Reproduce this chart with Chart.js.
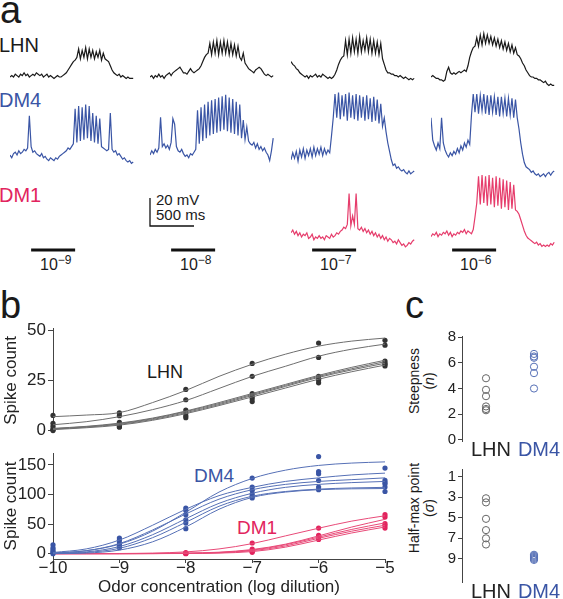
<!DOCTYPE html>
<html><head><meta charset="utf-8">
<script src="https://cdn.jsdelivr.net/npm/chart.js@4.4.1/dist/chart.umd.min.js"></script>
<style>
html,body{margin:0;padding:0;background:#fff;}
body{width:563px;height:599px;position:relative;overflow:hidden;font-family:"Liberation Sans",Arial,Helvetica,sans-serif;color:#1a1a1a;}
canvas{position:absolute;}
.t{position:absolute;line-height:0;white-space:nowrap;}
.rot{position:absolute;white-space:nowrap;text-align:center;line-height:1.05;transform:translate(-50%,-50%) rotate(-90deg);}
</style></head><body>

<div class="t" style="left:0px;top:10px;font-size:38px;">a</div>
<div class="t" style="left:-1px;top:45px;font-size:20px;">LHN</div>
<div class="t" style="left:-1px;top:100px;font-size:20px;color:#3a55a5;">DM4</div>
<div class="t" style="left:-1px;top:195px;font-size:20px;color:#e2245e;">DM1</div>
<div class="t" style="left:156px;top:200px;font-size:15px;">20 mV</div>
<div class="t" style="left:156px;top:215px;font-size:15px;">500 ms</div>
<div class="t" style="left:40px;top:265px;font-size:16px;">10<span style="font-size:12px;position:relative;top:-6px;">−9</span></div>
<div class="t" style="left:180px;top:265px;font-size:16px;">10<span style="font-size:12px;position:relative;top:-6px;">−8</span></div>
<div class="t" style="left:320px;top:265px;font-size:16px;">10<span style="font-size:12px;position:relative;top:-6px;">−7</span></div>
<div class="t" style="left:460px;top:265px;font-size:16px;">10<span style="font-size:12px;position:relative;top:-6px;">−6</span></div>

<div class="t" style="left:0px;top:305px;font-size:38px;">b</div>
<div class="t" style="left:147px;top:372px;font-size:18px;">LHN</div>
<div class="t" style="left:194px;top:476px;font-size:19px;color:#3a55a5;">DM4</div>
<div class="t" style="left:237px;top:528px;font-size:19px;color:#e2245e;">DM1</div>

<div class="t" style="left:405px;top:305px;font-size:38px;">c</div>
<div class="rot" style="left:422px;top:381px;font-size:14px;">Steepness<br>(<i>n</i>)</div>
<div class="rot" style="left:422px;top:508px;font-size:14px;">Half-max point<br>(<i>σ</i>)</div>

<script>
// ---------- DATA ----------
// panel a: membrane potential traces (mV relative to rest), one sample every 20 ms
const SAMPLE_MS = 20;
const STIM_ON_MS = 240, STIM_DUR_MS = 500;
const scaleBarMv = 20, scaleBarMs = 500;

const lhnTrace1 = [0,1,0,2,1,0,2,1,3,1,2,0,1,2,1,3,2,1,2,0,1,2,0,1,0,-1,0,1,0,0,1,2,3,5,7,9,11,12,14,20,13,19,14,21,13,20,14,19,13,18,14,19,12,17,13,12,11,8,5,3,2,1,2,0,1,0,-1,0,-1,-1,-1];
const lhnTrace2 = [0,1,-1,1,0,2,0,1,-1,1,2,3,1,3,4,5,6,7,5,3,3,2,4,6,4,3,4,5,6,8,11,14,16,17,24,16,25,17,26,16,25,17,26,17,25,16,24,16,23,15,22,14,12,17,10,8,6,5,4,3,5,6,7,6,4,2,1,2,1,0,1];
const lhnTrace3 = [11,9,8,6,5,3,2,1,0,1,-1,1,0,1,2,0,1,0,2,1,0,-1,0,-1,0,2,5,9,12,14,15,26,16,27,17,28,18,27,17,29,18,26,19,28,18,27,17,26,17,25,16,24,13,9,5,3,3,2,2,1,1,0,1,0,-1,0,-1,-2,-1,-2,-1];
const lhnTrace4 = [0,1,0,-1,-1,-2,-2,-3,-2,4,7,3,2,3,2,3,4,3,4,5,4,8,14,18,21,22,28,22,30,23,31,24,30,24,29,23,28,22,27,21,26,20,25,19,24,18,23,17,21,16,15,13,10,8,5,3,1,0,0,-1,-1,-2,-2,-3,-4,-3,-5,-6,-5,-6,-6];
const dm4Trace1 = [0,-2,1,2,0,3,1,2,4,3,5,28,6,2,3,1,0,-1,1,-2,-1,-3,-4,-2,-3,-4,-2,-3,-1,0,1,2,3,5,4,6,8,33,9,35,10,34,11,36,12,35,10,30,9,28,8,26,6,5,4,3,4,30,4,2,3,0,1,-1,-3,-2,-4,-5,-4,-6,-5];
const dm4Trace2 = [0,3,1,4,2,5,27,6,8,5,7,4,9,26,22,6,3,2,4,1,-1,0,-2,1,0,2,4,32,8,34,10,36,12,38,14,39,15,40,16,41,17,42,18,43,17,41,16,40,15,38,14,36,12,25,11,20,10,8,7,9,5,8,4,6,3,5,2,0,-4,3,12];
const dm4Trace3 = [-2,3,-1,4,-3,5,0,6,-1,5,1,6,0,7,1,6,2,7,1,6,2,5,3,15,28,45,28,46,27,44,29,45,26,46,28,44,27,45,26,44,28,43,26,44,27,42,25,43,26,41,24,38,22,28,18,10,4,-2,-6,-5,-8,-7,-9,-10,-9,-11,-12,-10,-12,-11,-10];
const dm4Trace4 = [28,12,8,5,10,6,28,10,5,2,0,3,1,4,2,6,3,8,5,10,7,12,9,30,45,32,45,31,44,33,45,31,44,30,44,32,43,30,43,29,43,31,42,29,42,30,42,28,41,28,20,10,2,-4,-7,-8,-9,-11,-10,-12,-13,-12,-14,-13,-12,-14,-12,-11,-13,-11,-10];
const dm1Trace3 = [3,5,2,4,1,3,0,2,1,3,-1,0,2,-2,0,-1,1,-1,0,-2,1,0,-1,2,0,1,3,2,4,5,7,6,9,31,8,15,9,31,6,5,7,4,6,3,5,2,4,1,3,0,2,-1,1,-2,0,-3,-1,-2,-4,-3,-5,-2,-4,-6,-5,-7,-6,-4,-5,-3,-2];
const dm1Trace4 = [1,3,2,4,1,3,2,4,3,5,2,4,1,3,2,4,3,5,4,6,3,5,4,3,6,15,25,44,24,45,25,44,23,45,24,43,22,44,23,43,21,42,22,41,20,40,21,38,20,19,17,13,9,5,2,0,-1,-2,-3,-4,-3,-5,-4,-6,-5,-6,-5,-6,-4,-5,-3];

// panel b: spike counts vs log dilution
const doseLog = [-10,-9,-8,-7,-6,-5];
const fitLog = [-10,-9.5,-9,-8.5,-8,-7.5,-7,-6.5,-6,-5.5,-5];
const lhnSpikes = [
  [7.6, 8.9, 20.5, 33.4, 43.5, 44.9],
  [3.7, 7.5, 15.4, 27, 36.4, 42.5],
  [2.3, 4.2, 10.3, 18.4, 27, 34.6],
  [0.9, 2.8, 8.9, 17, 25.7, 33.6],
  [0.1, 1.9, 7.5, 15.9, 25.2, 33],
  [0.5, 1.9, 6.5, 14.5, 23.8, 32.2]
];
const lhnFits = [
  [7, 7.8, 9, 14, 20, 27, 33, 38, 42, 44.5, 46],
  [3, 4.5, 7, 10.5, 15, 21, 27, 32, 37, 40.5, 43],
  [1.2, 2.2, 3.8, 6.3, 9.8, 14, 18.5, 23, 27.5, 31.5, 35],
  [1, 2, 3.5, 6, 9.5, 13.5, 18, 22.5, 27, 30.8, 34.3],
  [0.8, 1.8, 3.2, 5.6, 9, 13, 17.5, 22, 26.5, 30.2, 33.5],
  [0.6, 1.5, 2.8, 5.2, 8.5, 12.5, 16.8, 21.2, 25.6, 29.3, 32.6]
];
const dm4Spikes = [
  [10, 22.5, 73, 127.6, 164, 144.5],
  [15, 26.4, 77, 112.5, 138.8, 123.7],
  [7, 18, 65.7, 106.9, 134.8, 120],
  [4, 15, 57.3, 100.7, 123.6, 117.6],
  [2, 12.4, 51.7, 96.8, 112.4, 112.5],
  [0, 10, 42.2, 94, 107.9, 105]
];
const dm4Fits = [
  [1, 5, 16, 38, 70, 104, 127, 141, 149, 153, 155],
  [2, 8, 23, 48, 75, 98, 112, 122, 128, 133, 136],
  [1, 5, 17, 40, 67, 92, 108, 117, 122, 125, 128],
  [0.5, 3, 12, 32, 59, 85, 102, 112, 117, 120, 122],
  [0.3, 2, 9, 27, 53, 80, 97, 105, 109, 111, 112],
  [0, 1, 6, 20, 45, 75, 95, 104, 108, 109.5, 110]
];
const dm1Spikes = [
  [null, null, 2, 18, 43.3, 65.8],
  [null, null, 1, 7.9, 31, 61.8],
  [null, null, 0.5, 5, 29, 50.6],
  [null, null, 0.3, 4, 27, 47.2],
  [null, null, 0, 2.2, 24, 43.3]
];
const dm1Fits = [
  [0, 0.1, 0.3, 1, 3, 8, 17, 30, 43, 55, 64],
  [0, 0, 0, 0.3, 1, 2.5, 7, 16, 30, 45, 58],
  [0, 0, 0, 0.2, 0.5, 2, 6, 15, 28, 41, 52],
  [0, 0, 0, 0.1, 0.5, 1.5, 5, 13, 26, 38, 48],
  [0, 0, 0, 0.1, 0.3, 1, 3.5, 11, 23, 35, 45]
];

// panel c
const cellTypes = ['LHN', 'DM4'];
const steepLHN = [4.8, 3.9, 3.4, 2.6, 2.4, 2.3];
const steepDM4 = [6.7, 6.5, 6.4, 5.7, 5.2, 4.0];
const halfLHN = [3.1, 3.5, 5.1, 6.2, 7.0, 7.6];
const halfDM4 = [8.6, 8.7, 8.8, 8.9, 9.0, 9.1];

// ---------- STYLE / LAYOUT ----------
const FONT = '"Liberation Sans", Arial, Helvetica, sans-serif';
Chart.defaults.font.family = FONT;
Chart.defaults.color = '#222';
const BLUE = '#3a55a5', PINK = '#e2245e', PINK_TR = '#e63d6c', BLK = '#1a1a1a';
const PX_PER_MS = 44 / 500, PX_PER_MV = 1.4;

function canvasAt(left, top, w, h) {
  const c = document.createElement('canvas');
  c.width = w; c.height = h;
  c.style.left = left + 'px'; c.style.top = top + 'px';
  c.style.width = w + 'px'; c.style.height = h + 'px';
  document.body.appendChild(c);
  return c;
}
function base() {
  return {responsive: false, animation: false, events: [], devicePixelRatio: 1,
    plugins: {legend: {display: false}, tooltip: {enabled: false}}};
}
function bareChart(c, datasets, xMin, xMax, yMin, yMax) {
  const o = base();
  o.layout = {padding: 0};
  o.scales = {x: {type: 'linear', display: false, min: xMin, max: xMax},
              y: {type: 'linear', display: false, min: yMin, max: yMax}};
  return new Chart(c, {type: 'line', data: {datasets}, options: o});
}

// panel a traces
const colLeft = [10, 150, 291, 431];
function trace(values, color, col, baselineY) {
  const yMin = -15, yMax = 50, w = 126;
  const h = Math.round((yMax - yMin) * PX_PER_MV);
  const c = canvasAt(colLeft[col], baselineY - yMax * PX_PER_MV, w, h);
  bareChart(c, [{data: values.map((v, i) => ({x: i * SAMPLE_MS, y: v})), borderColor: color,
    borderWidth: 1.2, pointRadius: 0, tension: 0, clip: false}], 0, w / PX_PER_MS, yMin, yMax);
}
trace(lhnTrace1, BLK, 0, 77);
trace(lhnTrace2, BLK, 1, 77);
trace(lhnTrace3, BLK, 2, 77);
trace(lhnTrace4, BLK, 3, 77);
trace(dm4Trace1, BLUE, 0, 155);
trace(dm4Trace2, BLUE, 1, 155);
trace(dm4Trace3, BLUE, 2, 157);
trace(dm4Trace4, BLUE, 3, 157);
trace(dm1Trace3, PINK_TR, 2, 237);
trace(dm1Trace4, PINK_TR, 3, 238);

// stimulus bars
for (let col = 0; col < 4; col++) {
  const c = canvasAt(colLeft[col], 246, 126, 8);
  bareChart(c, [{data: [{x: STIM_ON_MS, y: 0}, {x: STIM_ON_MS + STIM_DUR_MS, y: 0}], borderColor: '#111',
    borderWidth: 3, pointRadius: 0, borderCapStyle: 'butt', clip: false}], 0, 126 / PX_PER_MS, -1, 1);
}
// scale bar
{
  const c = canvasAt(140, 190, 70, 40);
  const xMin = -10 / PX_PER_MS, yMin = -4 / PX_PER_MV;
  bareChart(c, [{data: [{x: 0, y: scaleBarMv}, {x: 0, y: 0}, {x: scaleBarMs, y: 0}], borderColor: '#111',
    borderWidth: 1.3, pointRadius: 0, borderCapStyle: 'butt', clip: false}],
    xMin, xMin + 70 / PX_PER_MS, yMin, yMin + 40 / PX_PER_MV);
}

// panel b
function doseSets(spikes, fits, dotColor, lineColor) {
  const ds = [];
  fits.forEach(f => ds.push({data: fitLog.map((x, i) => ({x, y: f[i]})), borderColor: lineColor, borderWidth: 1,
    pointRadius: 0, cubicInterpolationMode: 'monotone', clip: false}));
  spikes.forEach(s => ds.push({data: doseLog.map((x, i) => ({x, y: s[i]})), showLine: false, pointRadius: 2.6,
    pointBackgroundColor: dotColor, pointBorderWidth: 0, borderColor: dotColor, clip: false}));
  return ds;
}
function yAxis(min, max, ticks, width, fs, title) {
  return {type: 'linear', min, max,
    afterBuildTicks: s => { s.ticks = ticks.map(v => ({value: v})); },
    afterFit: s => { s.width = width; },
    ticks: {font: {size: fs}, color: '#222', padding: 2},
    grid: {display: true, drawOnChartArea: false, drawTicks: true, tickLength: 5, color: '#444', lineWidth: 1},
    border: {display: true, color: '#444', width: 1},
    title: title ? {display: true, text: title, font: {size: 17}, color: '#222', padding: {top: 1, bottom: 0}} : {display: false}};
}
{
  const c = canvasAt(0, 315, 400, 130);
  const o = base();
  o.layout = {padding: {left: 0, top: 13, right: 15, bottom: 6}};
  o.scales = {x: {type: 'linear', min: -10, max: -5, display: false},
              y: yAxis(-1, 51, [0, 25, 50], 53, 17, 'Spike count')};
  new Chart(c, {type: 'line', data: {datasets: doseSets(lhnSpikes, lhnFits, '#333', '#6e6e6e')}, options: o});
}
{
  const c = canvasAt(0, 440, 400, 159);
  const o = base();
  o.layout = {padding: {left: 0, top: 13, right: 15, bottom: 0}};
  o.scales = {
    x: {type: 'linear', min: -10, max: -5,
      afterBuildTicks: s => { s.ticks = doseLog.map(v => ({value: v})); },
      afterFit: s => { s.height = 40; },
      ticks: {font: {size: 17}, color: '#222', padding: -5, callback: v => '−' + Math.abs(v)},
      grid: {display: true, drawOnChartArea: false, drawTicks: true, tickLength: 4, color: '#444'},
      border: {display: true, color: '#444'},
      title: {display: true, text: 'Odor concentration (log dilution)', font: {size: 17}, color: '#222', padding: {top: 0, bottom: 1}}},
    y: yAxis(-9, 170, [0, 50, 100, 150], 53, 17, 'Spike count')};
  const ds = doseSets(dm4Spikes, dm4Fits, BLUE, '#5670b6').concat(doseSets(dm1Spikes, dm1Fits, PINK, '#e84a78'));
  new Chart(c, {type: 'line', data: {datasets: ds}, options: o});
}

// panel c
function catChart(top, h, padTop, padBottom, xh, labPad, yMin, yMax, ticks, reverse, lhn, dm4) {
  const c = canvasAt(400, top, 163, h);
  const o = base();
  o.layout = {padding: {left: 0, top: padTop, right: 0, bottom: padBottom}};
  const y = yAxis(yMin, yMax, ticks, 62, 15, null);
  y.reverse = reverse;
  y.grid.tickLength = 4;
  o.scales = {
    x: {type: 'category', labels: cellTypes, offset: true,
      afterFit: s => { s.height = xh; },
      ticks: {font: {size: 20}, padding: labPad, labelOffset: 5, maxRotation: 0, minRotation: 0, autoSkip: false,
        color: ctx => ctx.index === 1 ? BLUE : '#222'},
      grid: {display: false, drawTicks: false, tickLength: 0}, border: {display: false}},
    y};
  const pt = (vals, cat, col) => ({data: vals.map(v => ({x: cat, y: v})), showLine: false, pointRadius: 3.6,
    pointBorderWidth: 1, pointBorderColor: col, pointBackgroundColor: 'rgba(255,255,255,0)', borderColor: col, clip: false});
  new Chart(c, {type: 'line', data: {labels: cellTypes, datasets: [pt(lhn, 'LHN', '#666'), pt(dm4, 'DM4', '#5670b6')]}, options: o});
}
catChart(325, 146, 9, 10, 20, -3, -0.1, 8.1, [0, 2, 4, 6, 8], false, steepLHN, steepDM4);
catChart(455, 150, 14, 0, 23, -2, 0.25, 11.25, [1, 3, 5, 7, 9], true, halfLHN, halfDM4);
</script>
</body></html>
